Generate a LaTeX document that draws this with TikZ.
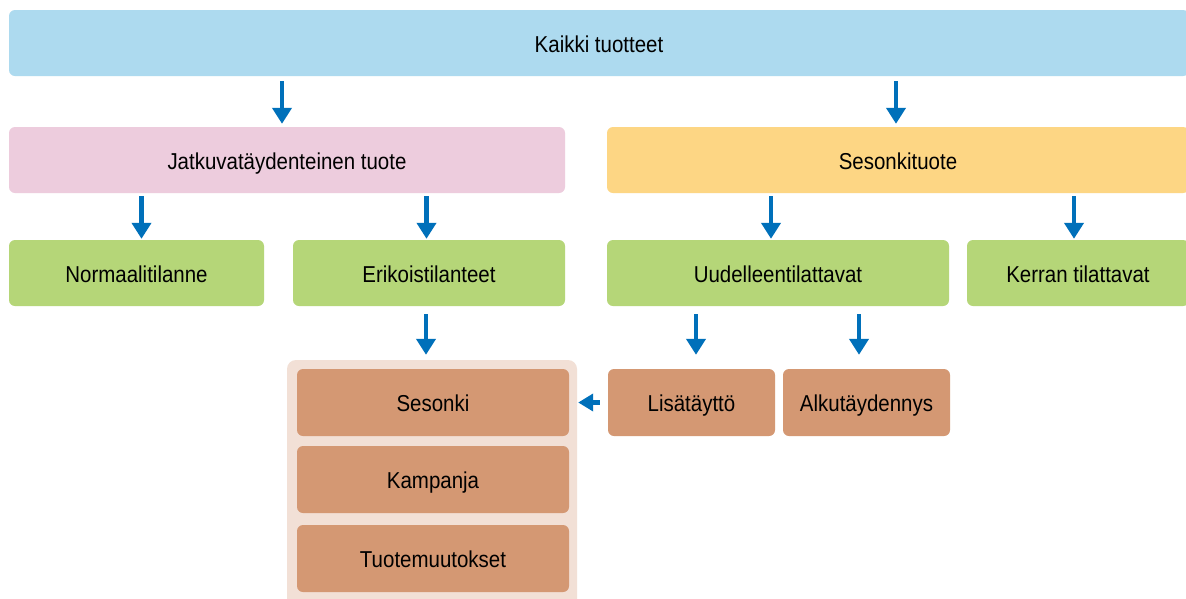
\documentclass[tikz,border=0pt]{standalone}
\usepackage{fontspec}
\setmainfont[FakeStretch=0.89]{Liberation Sans}
\usetikzlibrary{arrows.meta}
\definecolor{cblue}{HTML}{ADDAEF}
\definecolor{cpink}{HTML}{EDCCDD}
\definecolor{cyellow}{HTML}{FDD684}
\definecolor{cgreen}{HTML}{B5D678}
\definecolor{cbrown}{HTML}{D49873}
\definecolor{ccont}{HTML}{F2E0D6}
\definecolor{carrow}{HTML}{0070BA}
\tikzset{
  box/.style={rectangle, rounded corners=6pt, draw=none, inner sep=0pt, text=black,
    text height=20pt, text depth=2pt,
    font=\fontsize{23}{27}\selectfont},
  arr/.style={draw=carrow, line width=4.5pt, -{Triangle[length=16pt,width=19pt]}},
  harr/.style={draw=carrow, line width=4.5pt, -{Triangle[length=15pt,width=17pt]}},
}
\begin{document}
\begin{tikzpicture}[x=1pt,y=-1pt]
\useasboundingbox (0,0) rectangle (1186,598);
\fill[white] (0,0) rectangle (1186,598);
% container
\begin{scope}
\clip (0,0) rectangle (1186,598);
\node[box, fill=ccont, rounded corners=9pt, minimum width=290pt, minimum height=260pt] (cont) at (432,490) {};
\end{scope}
% nodes
\node[box, fill=cblue, minimum width=1180pt, minimum height=66pt] (top) at (599,43) {Kaikki tuotteet};
\node[box, fill=cpink, minimum width=556pt, minimum height=66pt] (jatk) at (287,160) {Jatkuvatäydenteinen tuote};
\node[box, fill=cyellow, minimum width=582pt, minimum height=66pt] (seso) at (898,160) {Sesonkituote};
\node[box, fill=cgreen, minimum width=255pt, minimum height=66pt] (norm) at (136.5,273) {Normaalitilanne};
\node[box, fill=cgreen, minimum width=272pt, minimum height=66pt] (erik) at (429,273) {Erikoistilanteet};
\node[box, fill=cgreen, minimum width=342pt, minimum height=66pt] (uude) at (778,273) {Uudelleentilattavat};
\node[box, fill=cgreen, minimum width=222pt, minimum height=66pt] (kerr) at (1078,273) {Kerran tilattavat};
\node[box, fill=cbrown, minimum width=272pt, minimum height=67pt] (sesn) at (433,402.5) {Sesonki};
\node[box, fill=cbrown, minimum width=272pt, minimum height=67pt] (kamp) at (433,479.5) {Kampanja};
\node[box, fill=cbrown, minimum width=272pt, minimum height=67pt] (tuot) at (433,558.5) {Tuotemuutokset};
\node[box, fill=cbrown, minimum width=167pt, minimum height=67pt] (lisa) at (691.5,402.5) {Lisätäyttö};
\node[box, fill=cbrown, minimum width=167pt, minimum height=67pt] (alku) at (866.5,402.5) {Alkutäydennys};
% arrow anchor coordinates
\path ([xshift=-5pt]jatk.north) coordinate (e1)
      ([xshift=-2pt]seso.north) coordinate (e2)
      ([xshift=5pt]norm.north) coordinate (e3)
      ([xshift=-2.5pt]erik.north) coordinate (e4)
      ([xshift=-7pt]uude.north) coordinate (e5)
      ([xshift=-4pt]kerr.north) coordinate (e6)
      ([xshift=-3pt]erik.south) coordinate (s7)
      ([xshift=4.5pt]lisa.north) coordinate (e8)
      ([xshift=-7.5pt]alku.north) coordinate (e9);
% arrows
\draw[arr, shorten <=5pt, shorten >=3pt] (e1 |- top.south) -- (e1);
\draw[arr, shorten <=5pt, shorten >=3pt] (e2 |- top.south) -- (e2);
\draw[arr, shorten <=3pt, shorten >=1pt] (e3 |- jatk.south) -- (e3);
\draw[arr, shorten <=3pt, shorten >=1pt] (e4 |- jatk.south) -- (e4);
\draw[arr, shorten <=3pt, shorten >=1pt] (e5 |- seso.south) -- (e5);
\draw[arr, shorten <=3pt, shorten >=1pt] (e6 |- seso.south) -- (e6);
\draw[arr, shorten <=8pt, shorten >=5pt] (s7) -- (s7 |- cont.north);
\draw[arr, shorten <=8pt, shorten >=14pt] (e8 |- uude.south) -- (e8);
\draw[arr, shorten <=8pt, shorten >=14pt] (e9 |- uude.south) -- (e9);
\draw[harr, shorten <=8pt, shorten >=1pt] (lisa.west) -- (lisa.west -| cont.east);
\end{tikzpicture}
\end{document}
